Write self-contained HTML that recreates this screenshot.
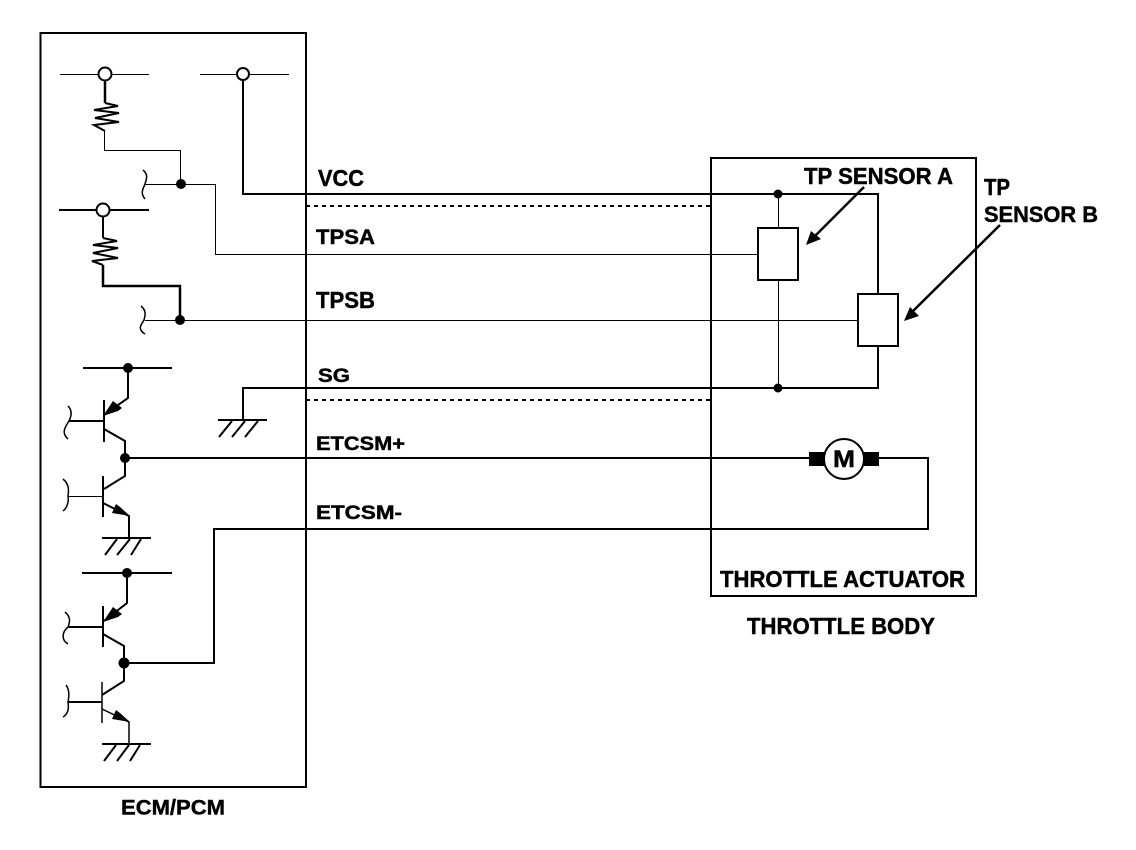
<!DOCTYPE html>
<html><head><meta charset="utf-8"><style>
html,body{margin:0;padding:0;background:#fff}
svg{display:block}
text{font-family:"Liberation Sans",sans-serif;font-weight:bold;font-size:20px;fill:#000;stroke:#000;stroke-width:.45px}
</style></head><body>
<svg width="1136" height="850" viewBox="0 0 1136 850" xmlns="http://www.w3.org/2000/svg">
<g fill="none" stroke="#000" stroke-width="2">
<rect x="40.5" y="33" width="265.5" height="754"/>
<rect x="711" y="158" width="265" height="438"/>
<!-- dashed -->
<path d="M306 206H711M306 400H711" stroke-dasharray="4 4"/>
<!-- top left supply -->
<path d="M60 74.500H99M111 74.500H149" stroke-width="1"/>
<path d="M105 80V103" stroke-width="2.500"/>
<path d="M105 103L118 106L94 110L119 113L95 118L119 122L94 125L105 131" stroke-width="2"/>
<path d="M104.500 131V150.500H180.500V184" stroke-width="1"/>
<path d="M145 184.500H215.500V254.500H758" stroke-width="1"/>
<path d="M143 170C149 175 146 180 145 184C143 189 140 193 145 199" stroke-width="1.500"/>
<path d="M59 210H97M109 210H149" stroke-width="2"/>
<path d="M103 216V238" stroke-width="2"/>
<path d="M103 238L117 241L93 245L118 248L93 253L118 258L92 261L103 265" stroke-width="2"/>
<path d="M103 265V286H180V320" stroke-width="2.500"/>
<path d="M145 320.500H858" stroke-width="1"/>
<path d="M141 306C147 311 145 316 144 320C141 325 137 329 145 334" stroke-width="1.500"/>
<!-- VCC -->
<path d="M200 74.500H237M249 74.500H289" stroke-width="1"/>
<path d="M243 80V194H878V294" stroke-width="2"/>
<path d="M778.500 194V228M778.500 280V388" stroke-width="1"/>
<path d="M878 346V388H243V420" stroke-width="2"/>
<rect x="758" y="228" width="40" height="52"/>
<rect x="858" y="294" width="40" height="52"/>
<!-- ground SG -->
<path d="M218 420H267" stroke-width="2"/>
<path d="M232 421L219 437M245 421L232 437M258 421L245 437" stroke-width="2"/>
<!-- transistor 1 -->
<path d="M83 368H172" stroke-width="2"/>
<path d="M128 368V398L104 415" stroke-width="2"/>
<path d="M104 400V442" stroke-width="2"/>
<path d="M69 421H104" stroke-width="2"/>
<path d="M68 406C73 411 71 417 69 421C65 427 61 433 68 439" stroke-width="1.500"/>
<path d="M104 429L125 441V476L104 489" stroke-width="2"/>
<path d="M103 476V517" stroke-width="2"/>
<path d="M68 496.500H103" stroke-width="1"/>
<path d="M63 479C69 484 69 490 68 496C69 502 67 508 63 511" stroke-width="1.500"/>
<path d="M103 503L129 516V538" stroke-width="2"/>
<path d="M102 538H151" stroke-width="2"/>
<path d="M117 539L105 555M130 539L117 555M141 539L131 555" stroke-width="2"/>
<path d="M125 458H809" stroke-width="2"/>
<path d="M879 458H928V529H214V663H124" stroke-width="2"/>
<!-- transistor 2 -->
<path d="M82 573H172" stroke-width="2"/>
<path d="M127 573V603L104 621" stroke-width="2"/>
<path d="M103 606V647" stroke-width="2"/>
<path d="M68 627H103" stroke-width="2"/>
<path d="M65 612C71 617 70 622 68 627C62 632 61 640 68 644" stroke-width="1.500"/>
<path d="M103 634L124 646V681L102 695" stroke-width="2"/>
<path d="M102 682V723" stroke-width="1.500"/>
<path d="M68 702H102" stroke-width="2"/>
<path d="M66 685C70 690 69 697 68 702C69 708 68 714 63 717" stroke-width="1.500"/>
<path d="M102 709L129 722V744" stroke-width="1.500"/>
<path d="M102 744H151" stroke-width="2"/>
<path d="M116 745L104 761M129 745L117 761M140 745L130 761" stroke-width="2"/>
<!-- sensor arrows -->
<path d="M864 187L812 239" stroke-width="2.500"/>
<path d="M1000 225L910 314" stroke-width="2.500"/>
<!-- motor -->
<circle cx="844" cy="459" r="20" stroke-width="2"/>
</g>
<g fill="#fff" stroke="#000">
<circle cx="105" cy="74" r="6.500" stroke-width="2"/>
<circle cx="103" cy="210" r="6.500" stroke-width="2"/>
<circle cx="243" cy="74" r="6" stroke-width="2"/>
</g>
<g fill="#000">
<circle cx="181" cy="184" r="5"/>
<circle cx="180" cy="320" r="5"/>
<circle cx="128" cy="368" r="5"/>
<circle cx="125" cy="458" r="5"/>
<circle cx="127" cy="573" r="5"/>
<circle cx="124" cy="663" r="5.500"/>
<circle cx="778" cy="194" r="4.500"/>
<circle cx="778" cy="388" r="4.500"/>
<rect x="809" y="452" width="15" height="14"/>
<rect x="864" y="452" width="15" height="14"/>
<!-- transistor arrowheads -->
<path d="M103 416L113 401L122 408L118 411Z"/>
<path d="M103 622L113 607L122 614L118 617Z"/>
<path d="M130 516L112 513L116 504L120 507Z"/>
<path d="M130 722L112 719L116 710L120 713Z"/>
<!-- sensor arrowheads -->
<path d="M806 245L811 231L821 239Z"/>
<path d="M904 321L910 307L919 316Z"/>
</g>
<text x="318" y="186" textLength="46" lengthAdjust="spacingAndGlyphs" style="font-size:23px">VCC</text>
<text x="316" y="244" textLength="59" lengthAdjust="spacingAndGlyphs" style="font-size:21.500px">TPSA</text>
<text x="316" y="308" textLength="59" lengthAdjust="spacingAndGlyphs" style="font-size:23px">TPSB</text>
<text x="318" y="382" textLength="32" lengthAdjust="spacingAndGlyphs" style="font-size:19px">SG</text>
<text x="316" y="450" textLength="89" lengthAdjust="spacingAndGlyphs" style="font-size:19px">ETCSM+</text>
<text x="316" y="519" textLength="86" lengthAdjust="spacingAndGlyphs" style="font-size:19px">ETCSM-</text>
<text x="804" y="184" textLength="149" lengthAdjust="spacingAndGlyphs" style="font-size:23px">TP SENSOR A</text>
<text x="984" y="195" textLength="26" lengthAdjust="spacingAndGlyphs" style="font-size:23px">TP</text>
<text x="984" y="222" textLength="114" lengthAdjust="spacingAndGlyphs" style="font-size:22px">SENSOR B</text>
<text x="720" y="587" textLength="245" lengthAdjust="spacingAndGlyphs" style="font-size:23px">THROTTLE ACTUATOR</text>
<text x="747" y="634" textLength="188" lengthAdjust="spacingAndGlyphs" style="font-size:23px">THROTTLE BODY</text>
<text x="121" y="814.500" textLength="104" lengthAdjust="spacingAndGlyphs" style="font-size:21px">ECM/PCM</text>
<text x="833" y="467" textLength="22" lengthAdjust="spacingAndGlyphs" style="font-size:24px">M</text>
</svg>
</body></html>
